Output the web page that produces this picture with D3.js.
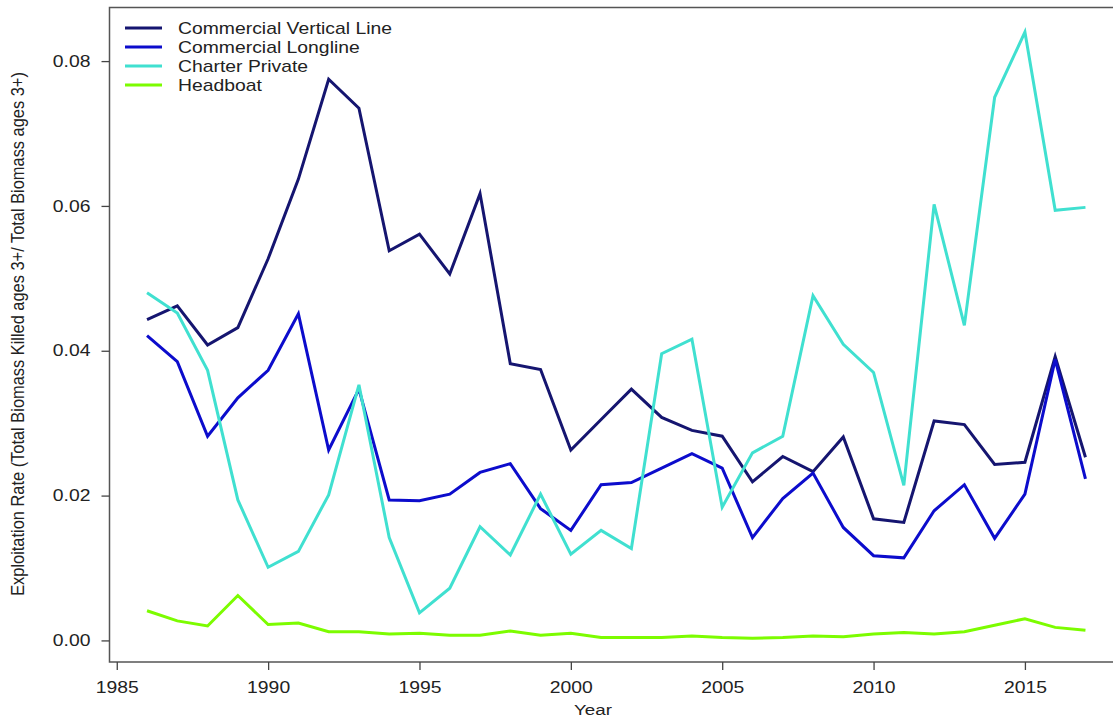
<!DOCTYPE html>
<html><head><meta charset="utf-8">
<script src="https://cdn.jsdelivr.net/npm/d3@7"></script>
<style>body{margin:0;background:#fff}svg{display:block}text{font-family:"Liberation Sans",Arial,sans-serif;fill:#222}</style>
</head><body>
<svg id="c" width="1113" height="719"></svg>
<script>
const years = d3.range(1986, 2018);
const verticalLine = [0.0443,0.0462,0.0408,0.0432,0.0527,0.0637,0.0775,0.0735,0.0538,0.0561,0.0506,0.0617,0.0382,0.0374,0.0263,0.0305,0.0347,0.0308,0.0290,0.0282,0.0219,0.0254,0.0233,0.0281,0.0168,0.0163,0.0303,0.0298,0.0243,0.0246,0.0392,0.0253];
const longline = [0.0421,0.0385,0.0282,0.0335,0.0373,0.0451,0.0263,0.0347,0.0194,0.0193,0.0202,0.0232,0.0244,0.0182,0.0152,0.0215,0.0218,0.0238,0.0258,0.0238,0.0142,0.0196,0.0231,0.0156,0.0117,0.0114,0.0179,0.0215,0.0141,0.0202,0.0388,0.0223];
const charterPrivate = [0.0480,0.0452,0.0373,0.0194,0.0101,0.0123,0.0201,0.0353,0.0142,0.0038,0.0072,0.0157,0.0118,0.0202,0.0119,0.0152,0.0127,0.0396,0.0416,0.0184,0.0259,0.0282,0.0476,0.0409,0.0370,0.0214,0.0602,0.0435,0.0750,0.0840,0.0594,0.0598];
const headboat = [0.0041,0.0027,0.0020,0.0062,0.0022,0.0024,0.0012,0.0012,0.0009,0.0010,0.0007,0.0007,0.0013,0.0007,0.0010,0.0004,0.0004,0.0004,0.0006,0.0004,0.0003,0.0004,0.0006,0.0005,0.0009,0.0011,0.0009,0.0012,0.0021,0.0030,0.0018,0.0014];
const seriesNames = ["Commercial Vertical Line","Commercial Longline","Charter Private","Headboat"];
const seriesColors = ["#151570","#0c0ccc","#40e0d0","#7cfc00"];
const xTicks = [1985,1990,1995,2000,2005,2010,2015];
const yTicks = [0,0.02,0.04,0.06,0.08];
const xTitle = "Year";
const yTitle = "Exploitation Rate (Total Biomass Killed ages 3+/ Total Biomass ages 3+)";

const SX = 1.21; // horizontal text stretch seen in the reference
const allSeries = [verticalLine, longline, charterPrivate, headboat];
const svg = d3.select("#c");
const L = 109.5, R = 1123, T = 7.5, B = 662;
const x = d3.scaleLinear().domain([1984.76, 2018.24]).range([L, R]);
const y = d3.scaleLinear().domain([-0.00298, 0.0874]).range([B, T]);

function stretch(sel) {
  sel.each(function () {
    const t = d3.select(this);
    const xx = +(t.attr("x") || 0);
    t.attr("x", 0).attr("transform", `translate(${xx},0) scale(${SX},1)`);
  });
}

// box
svg.append("rect").attr("x", L).attr("y", T).attr("width", R - L).attr("height", B - T)
  .attr("fill", "none").attr("stroke", "#555").attr("stroke-width", 1.5);

// x axis
const xa = svg.append("g").attr("transform", `translate(0,${B})`)
  .call(d3.axisBottom(x).tickValues(xTicks).tickFormat(d3.format("d")).tickSize(8).tickPadding(12));
xa.select(".domain").remove();
xa.selectAll("line").attr("stroke", "#444").attr("stroke-width", 1.3);
xa.selectAll("text").attr("font-size", 16).attr("fill", "#222").call(stretch);

// y axis
const ya = svg.append("g").attr("transform", `translate(${L},0)`)
  .call(d3.axisLeft(y).tickValues(yTicks).tickFormat(d3.format(".2f")).tickSize(8).tickPadding(11));
ya.select(".domain").remove();
ya.selectAll("line").attr("stroke", "#444").attr("stroke-width", 1.3);
ya.selectAll("text").attr("font-size", 16).attr("fill", "#222").call(stretch);

svg.append("text").attr("transform", `translate(593,715) scale(${SX},1)`).attr("text-anchor", "middle").attr("font-size", 15.5).text(xTitle);
svg.append("text").attr("transform", `translate(24,334) scale(1.12,1) rotate(-90)`).attr("text-anchor", "middle").attr("font-size", 16.4).text(yTitle);

const line = d3.line().x((d, i) => x(years[i])).y(d => y(d));
allSeries.forEach((s, k) => {
  svg.append("path").datum(s).attr("d", line).attr("fill", "none")
    .attr("stroke", seriesColors[k]).attr("stroke-width", 3).attr("stroke-linejoin", "miter");
});

// legend
const lg = svg.append("g");
seriesNames.forEach((n, k) => {
  const yy = 28 + k * 19;
  lg.append("line").attr("x1", 125).attr("x2", 162).attr("y1", yy).attr("y2", yy)
    .attr("stroke", seriesColors[k]).attr("stroke-width", 3);
  lg.append("text").attr("transform", `translate(178,${yy + 5.5}) scale(${SX},1)`).attr("font-size", 16).text(n);
});
</script>
</body></html>
